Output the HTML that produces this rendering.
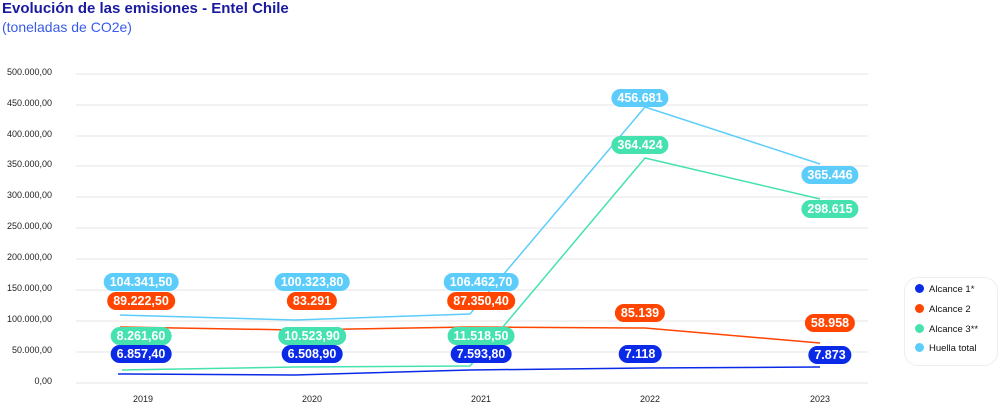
<!DOCTYPE html>
<html><head><meta charset="utf-8"><style>
body{margin:0;width:1000px;height:405px;background:#fff;font-family:"Liberation Sans",sans-serif;overflow:hidden;position:relative}
.t1{position:absolute;left:2px;top:0;font-size:15px;font-weight:bold;color:#1a1aa0}
.t2{position:absolute;left:2px;top:19px;font-size:14px;color:#3a5be8}
.yl{position:absolute;left:0;width:52px;text-align:right;font-size:9px;color:#222}
.xl{position:absolute;top:394px;font-size:9px;color:#222;width:40px;text-align:center}
.p{position:absolute;height:18px;line-height:18px;border-radius:9px;color:#fff;font-weight:bold;font-size:12.5px;padding:0 6px;transform:translateX(-50%);white-space:nowrap}
.b{background:#0a2ae8}.o{background:#ff4500}.g{background:#45e2b0}.l{background:#5ccdfb}
.leg{position:absolute;left:904px;top:277px;width:92px;height:87px;border:1px solid #eee;border-radius:14px;font-size:9.5px;color:#111}
.leg div{position:absolute;left:10px;height:12px;line-height:12px}
.leg span{display:inline-block;width:9px;height:9px;border-radius:50%;margin-right:5px;vertical-align:-1px}
</style></head><body>
<div class="t1">Evolución de las emisiones - Entel Chile</div>
<div class="t2">(toneladas de CO2e)</div>
<svg style="position:absolute;left:0;top:0" width="1000" height="405">
<g stroke="#e4e4e4" stroke-width="1">
<line x1="76" x2="868" y1="74" y2="74"/><line x1="76" x2="868" y1="105" y2="105"/><line x1="76" x2="868" y1="136" y2="136"/><line x1="76" x2="868" y1="166" y2="166"/><line x1="76" x2="868" y1="197" y2="197"/><line x1="76" x2="868" y1="228" y2="228"/><line x1="76" x2="868" y1="259" y2="259"/><line x1="76" x2="868" y1="290" y2="290"/><line x1="76" x2="868" y1="321" y2="321"/><line x1="76" x2="868" y1="352" y2="352"/><line x1="76" x2="868" y1="383" y2="383"/>
</g>
<g fill="none" stroke-width="1.5">
<polyline stroke="#5ccdfb" points="120,315 295,320 470,314 645,107 820,164"/>
<polyline stroke="#ff4500" points="120,327 295,330 470,327 645,328 820,343"/>
<polyline stroke="#45e2b0" points="122,370 295,367 470,366 645,158 820,199"/>
<polyline stroke="#0a2ae8" points="118,374 295,375 470,370 645,368 820,367"/>
</g></svg>
<div class="yl" style="top:67px">500.000,00</div><div class="yl" style="top:98px">450.000,00</div><div class="yl" style="top:129px">400.000,00</div><div class="yl" style="top:159px">350.000,00</div><div class="yl" style="top:190px">300.000,00</div><div class="yl" style="top:221px">250.000,00</div><div class="yl" style="top:252px">200.000,00</div><div class="yl" style="top:283px">150.000,00</div><div class="yl" style="top:314px">100.000,00</div><div class="yl" style="top:345px">50.000,00</div><div class="yl" style="top:376px">0,00</div>
<div class="xl" style="left:123px">2019</div><div class="xl" style="left:292px">2020</div><div class="xl" style="left:461px">2021</div><div class="xl" style="left:630px">2022</div><div class="xl" style="left:800px">2023</div>
<div class="p l" style="left:141px;top:273px">104.341,50</div>
<div class="p o" style="left:141px;top:292px">89.222,50</div>
<div class="p g" style="left:141px;top:327px">8.261,60</div>
<div class="p b" style="left:141px;top:345px">6.857,40</div>
<div class="p l" style="left:312px;top:273px">100.323,80</div>
<div class="p o" style="left:312px;top:292px">83.291</div>
<div class="p g" style="left:312px;top:327px">10.523,90</div>
<div class="p b" style="left:312px;top:345px">6.508,90</div>
<div class="p l" style="left:481px;top:273px">106.462,70</div>
<div class="p o" style="left:481px;top:292px">87.350,40</div>
<div class="p g" style="left:481px;top:327px">11.518,50</div>
<div class="p b" style="left:481px;top:345px">7.593,80</div>
<div class="p l" style="left:640px;top:89px">456.681</div>
<div class="p g" style="left:640px;top:136px">364.424</div>
<div class="p o" style="left:640px;top:304px">85.139</div>
<div class="p b" style="left:640px;top:345px">7.118</div>
<div class="p l" style="left:830px;top:166px">365.446</div>
<div class="p g" style="left:830px;top:200px">298.615</div>
<div class="p o" style="left:830px;top:314px">58.958</div>
<div class="p b" style="left:830px;top:346px">7.873</div>
<div class="leg">
<div style="top:6px"><span style="background:#0a2ae8"></span>Alcance 1*</div>
<div style="top:26px"><span style="background:#ff4500"></span>Alcance 2</div>
<div style="top:46px"><span style="background:#45e2b0"></span>Alcance 3**</div>
<div style="top:65px"><span style="background:#5ccdfb"></span>Huella total</div>
</div>
</body></html>
